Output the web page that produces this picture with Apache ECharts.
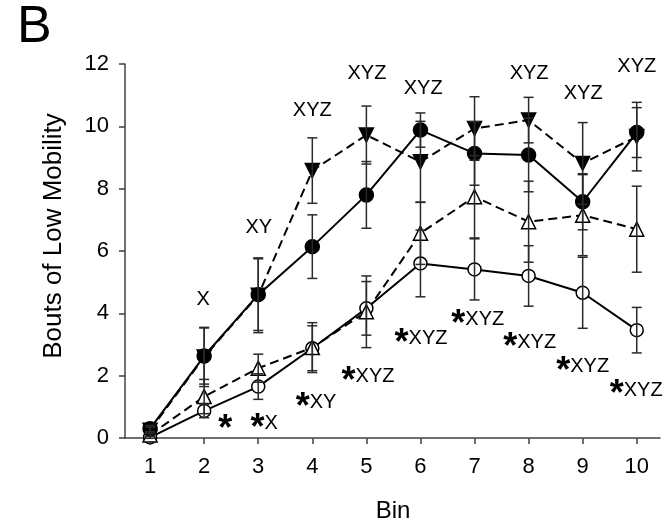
<!DOCTYPE html>
<html>
<head>
<meta charset="UTF-8">
<title>Bouts of Low Mobility</title>
<script src="https://cdn.jsdelivr.net/npm/echarts@6/dist/echarts.min.js"></script>
<style>
  html, body { margin: 0; padding: 0; background: #fff; }
  #main { width: 668px; height: 529px; }
</style>
</head>
<body>
<div id="main"></div>
<script>
// bins on the x axis, ticks on the y axis
var bins = [1, 2, 3, 4, 5, 6, 7, 8, 9, 10];
var yTicks = [0, 2, 4, 6, 8, 10, 12];

// filled circles, solid line
var filledCircle    = [0.30, 2.63, 4.60, 6.14, 7.80, 9.88, 9.13, 9.08, 7.58, 9.80];
var filledCircleErr = [0.10, 0.90, 1.15, 1.02, 1.07, 0.55, 1.02, 1.18, 0.90, 0.80];
// filled down triangles, dashed line
var filledTri       = [0.25, 2.60, 4.58, 8.58, 9.72, 8.86, 9.93, 10.20, 8.81, 9.67];
var filledTriErr    = [0.10, 0.95, 1.20, 1.05, 0.93, 1.30, 1.02, 0.73, 1.31, 1.10];
// open triangles, dashed line
var openTri         = [0.10, 1.33, 2.24, 2.90, 4.05, 6.57, 7.74, 6.94, 7.15, 6.70];
var openTriErr      = [0.05, 0.55, 0.45, 0.80, 1.15, 1.00, 1.32, 1.30, 1.30, 1.38];
// open circles, solid line
var openCircle      = [0.02, 0.87, 1.65, 2.88, 4.16, 5.60, 5.41, 5.20, 4.66, 3.46];
var openCircleErr   = [0.03, 0.22, 0.41, 0.72, 0.86, 1.07, 0.98, 0.97, 1.14, 0.73];

// significance letters above the curves
var upperBins = [1.98, 3.01, 4.00, 5.01, 6.05, 7.05, 8.01, 9.01, 10.00];
var upperVals = [4.46, 6.74, 10.52, 11.68, 11.20, 12.13, 11.68, 11.07, 11.93];
var upperText = ['X', 'XY', 'XYZ', 'XYZ', 'XYZ', 'XYZ', 'XYZ', 'XYZ', 'XYZ'];

// asterisk + letters below the curves
var lowerBins = [2.39, 3.11, 4.07, 5.03, 6.01, 7.06, 8.02, 9.00, 9.99];
var lowerVals = [0.42, 0.45, 1.15, 1.96, 3.18, 3.79, 3.05, 2.28, 1.54];
var lowerText = ['', 'X', 'XY', 'XYZ', 'XYZ', 'XYZ', 'XYZ', 'XYZ', 'XYZ'];

var FONT = "'Liberation Sans', Arial, sans-serif";

function pairs(vals) {
    return vals.map(function (v, i) { return [bins[i], v]; });
}
function errRows(vals, errs) {
    return vals.map(function (v, i) { return [bins[i], v - errs[i], v + errs[i]]; });
}

function renderErr(params, api) {
    var x = api.value(0);
    var top = api.coord([x, api.value(2)]);
    var bot = api.coord([x, api.value(1)]);
    var w = 5;
    var st = { stroke: '#2a2a2a', lineWidth: 1.5 };
    return {
        type: 'group',
        children: [
            { type: 'line', shape: { x1: top[0], y1: top[1], x2: bot[0], y2: bot[1] }, style: st },
            { type: 'line', shape: { x1: top[0] - w, y1: top[1], x2: top[0] + w, y2: top[1] }, style: st },
            { type: 'line', shape: { x1: bot[0] - w, y1: bot[1], x2: bot[0] + w, y2: bot[1] }, style: st }
        ]
    };
}

function errSeries(vals, errs) {
    return {
        type: 'custom',
        renderItem: renderErr,
        data: errRows(vals, errs),
        encode: { x: 0, y: [1, 2] },
        z: 5,
        silent: true
    };
}

function lineSeries(name, vals, dashed, symbol, filled, size) {
    return {
        name: name,
        type: 'line',
        data: pairs(vals),
        symbol: symbol === 'down' ? 'triangle' : symbol,
        symbolRotate: symbol === 'down' ? 180 : 0,
        symbolSize: size,
        showSymbol: true,
        lineStyle: { color: '#000', width: 2, type: dashed ? [9, 5] : 'solid' },
        itemStyle: { color: filled ? '#000' : '#fff', borderColor: '#000', borderWidth: 1.5 },
        z: 3,
        silent: true
    };
}

var upperData = upperBins.map(function (b, i) { return [b, upperVals[i], upperText[i]]; });
var lowerData = lowerBins.map(function (b, i) { return [b, lowerVals[i], lowerText[i]]; });

var option = {
    animation: false,
    backgroundColor: '#fff',
    grid: { left: 125, right: 8, top: 64, bottom: 91 },
    xAxis: {
        type: 'value',
        min: 0.536,
        max: 10.43,
        splitLine: { show: false },
        axisLine: { lineStyle: { color: '#404040', width: 1.5 } },
        axisTick: { customValues: bins, length: 6, lineStyle: { color: '#404040', width: 1.5 } },
        axisLabel: { customValues: bins, margin: 18, color: '#000', fontSize: 22, fontFamily: FONT }
    },
    yAxis: {
        type: 'value',
        min: 0,
        max: 12,
        interval: 2,
        splitLine: { show: false },
        axisLine: { show: true, lineStyle: { color: '#404040', width: 1.5 } },
        axisTick: { show: true, length: 6, lineStyle: { color: '#404040', width: 1.5 } },
        axisLabel: { margin: 16, color: '#000', fontSize: 22, fontFamily: FONT }
    },
    graphic: [
        { type: 'text', left: 17, top: 2,
          style: { text: 'B', fontSize: 52, fontFamily: FONT, fill: '#000' } },
        { type: 'text', x: 54, y: 236, rotation: Math.PI / 2,
          style: { text: 'Bouts of Low Mobility', fontSize: 26, fontFamily: FONT, fill: '#000',
                   textAlign: 'center', textVerticalAlign: 'middle' } },
        { type: 'text', x: 393, y: 511,
          style: { text: 'Bin', fontSize: 24, fontFamily: FONT, fill: '#000',
                   textAlign: 'center', textVerticalAlign: 'middle' } }
    ],
    series: [
        lineSeries('open circle', openCircle, false, 'circle', false, 13),
        lineSeries('open triangle', openTri, true, 'triangle', false, 14),
        lineSeries('filled triangle', filledTri, true, 'down', true, 14),
        lineSeries('filled circle', filledCircle, false, 'circle', true, 14),
        errSeries(openCircle, openCircleErr),
        errSeries(openTri, openTriErr),
        errSeries(filledTri, filledTriErr),
        errSeries(filledCircle, filledCircleErr),
        {
            type: 'scatter',
            data: upperData,
            symbolSize: 1,
            itemStyle: { color: 'rgba(0,0,0,0)', opacity: 1 },
            silent: true,
            z: 6,
            label: {
                show: true, position: 'inside',
                formatter: function (p) { return p.data[2]; },
                color: '#000', fontSize: 20, fontFamily: FONT,
                textBorderWidth: 0
            }
        },
        {
            type: 'scatter',
            data: lowerData,
            symbolSize: 1,
            itemStyle: { color: 'rgba(0,0,0,0)', opacity: 1 },
            silent: true,
            z: 6,
            label: {
                show: true, position: 'inside',
                formatter: function (p) {
                    var t = p.data[2];
                    return '{s|*}' + (t ? '{t|' + t + '}' : '');
                },
                color: '#000', fontFamily: FONT, textBorderWidth: 0,
                rich: {
                    s: { fontSize: 36, fontWeight: 'bold', fontFamily: FONT, color: '#000',
                         padding: [11, 0, 0, 0], textBorderWidth: 0 },
                    t: { fontSize: 20, fontFamily: FONT, color: '#000', textBorderWidth: 0 }
                }
            }
        }
    ]
};

var myChart = echarts.init(document.getElementById('main'));
myChart.setOption(option);
</script>
</body>
</html>
